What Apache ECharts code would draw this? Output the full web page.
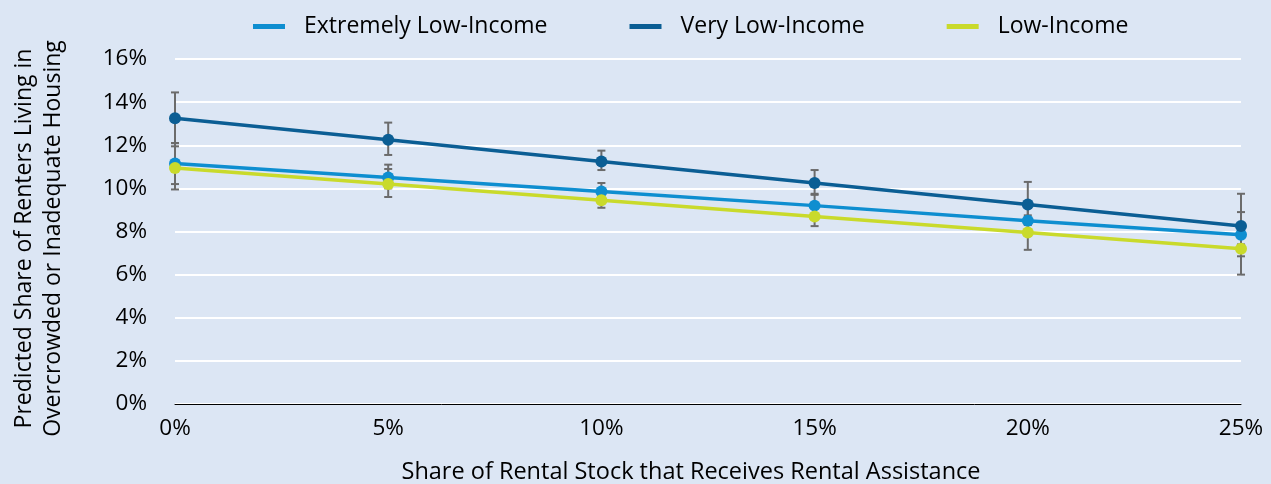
<!DOCTYPE html>
<html>
<head>
<meta charset="utf-8">
<script src="https://cdn.jsdelivr.net/npm/echarts@6/dist/echarts.min.js"></script>
<style>
  html, body { margin: 0; padding: 0; background: #dce6f4; }
  #chart { width: 1271px; height: 484px; }
</style>
</head>
<body>
<div id="chart"></div>
<script>
// x positions (share of rental stock receiving assistance, %)
const shares = [0, 5, 10, 15, 20, 25];
const yTicks = [0, 2, 4, 6, 8, 10, 12, 14, 16];

// predicted shares (%)
const extremelyLow = [11.15, 10.5, 9.85, 9.2, 8.5, 7.85];
const veryLow = [13.25, 12.25, 11.25, 10.25, 9.25, 8.25];
const lowIncome = [10.95, 10.2, 9.45, 8.7, 7.95, 7.2];

// error bar ranges [low, high]
const extremelyLowErr = [[10.2, 12.1], [10.0, 11.1], [9.55, 10.25], [8.75, 9.7], [7.8, 9.2], [7.4, 8.3]];
const veryLowErr = [[12.1, 14.45], [11.55, 13.05], [10.85, 11.75], [9.75, 10.85], [8.3, 10.3], [6.85, 9.75]];
const lowIncomeErr = [[9.95, 11.95], [9.6, 10.9], [9.1, 9.9], [8.25, 9.2], [7.15, 8.75], [6.0, 8.9]];

const font = "Open Sans";

let chart = echarts.init(document.getElementById("chart"));

function errSeries(name, err) {
  return {
    name: name + " err",
    type: "custom",
    z: 1,
    silent: true,
    data: shares.map((x, i) => [x, err[i][0], err[i][1]]),
    renderItem: function (params, api) {
      let x = api.value(0);
      let lo = api.coord([x, api.value(1)]);
      let hi = api.coord([x, api.value(2)]);
      let w = 4;
      let style = { stroke: "#6b6b6b", lineWidth: 2 };
      return {
        type: "group",
        children: [
          { type: "line", shape: { x1: lo[0], y1: lo[1], x2: hi[0], y2: hi[1] }, style: style },
          { type: "line", shape: { x1: lo[0] - w, y1: lo[1], x2: lo[0] + w, y2: lo[1] }, style: style },
          { type: "line", shape: { x1: hi[0] - w, y1: hi[1], x2: hi[0] + w, y2: hi[1] }, style: style }
        ]
      };
    }
  };
}

function lineSeries(name, vals, color) {
  return {
    name: name,
    type: "line",
    z: 3,
    data: shares.map((x, i) => [x, vals[i]]),
    symbol: "circle",
    symbolSize: 12,
    lineStyle: { color: color, width: 3.5 },
    itemStyle: { color: color }
  };
}

let option = {
  backgroundColor: "#dce6f4",
  animation: false,
  legend: {
    top: 10,
    left: 248,
    itemGap: 82,
    itemWidth: 32,
    itemHeight: 5,
    icon: "rect",
    textStyle: { fontFamily: font, fontSize: 23, color: "#000", padding: [0, 0, 0, 14] },
    data: [
      { name: "Extremely Low-Income" },
      { name: "Very Low-Income" },
      { name: "Low-Income" }
    ]
  },
  grid: { left: 175, right: 30, top: 59, bottom: 80, outerBoundsMode: "none" },
  xAxis: {
    type: "value",
    min: 0,
    max: 25,
    interval: 5,
    name: "Share of Rental Stock that Receives Rental Assistance",
    nameLocation: "middle",
    nameGap: 56,
    nameTextStyle: { fontFamily: font, fontSize: 23.5, color: "#000", padding: [0, 34, 0, 0] },
    axisLine: { lineStyle: { color: "#000", width: 1 } },
    axisTick: { show: false },
    splitLine: { show: false },
    axisLabel: { formatter: "{value}%", fontFamily: font, fontSize: 22.5, color: "#000", margin: 13 }
  },
  yAxis: {
    type: "value",
    min: yTicks[0],
    max: yTicks[yTicks.length - 1],
    interval: 2,
    name: "Predicted Share of Renters Living in\nOvercrowded or Inadequate Housing",
    nameLocation: "middle",
    nameGap: 107,
    nameTextStyle: { fontFamily: font, fontSize: 23, color: "#000", lineHeight: 29, padding: [0, 14, 0, 0] },
    axisLine: { show: false },
    axisTick: { show: false },
    splitLine: { lineStyle: { color: "#ffffff", width: 2 } },
    axisLabel: { formatter: "{value}%", fontFamily: font, fontSize: 22.5, color: "#000", margin: 28 }
  },
  series: [
    errSeries("Extremely Low-Income", extremelyLowErr),
    errSeries("Very Low-Income", veryLowErr),
    errSeries("Low-Income", lowIncomeErr),
    lineSeries("Extremely Low-Income", extremelyLow, "#0e8ed0"),
    lineSeries("Very Low-Income", veryLow, "#0b5e94"),
    lineSeries("Low-Income", lowIncome, "#c9da2b")
  ]
};

chart.setOption(option);
</script>
</body>
</html>
